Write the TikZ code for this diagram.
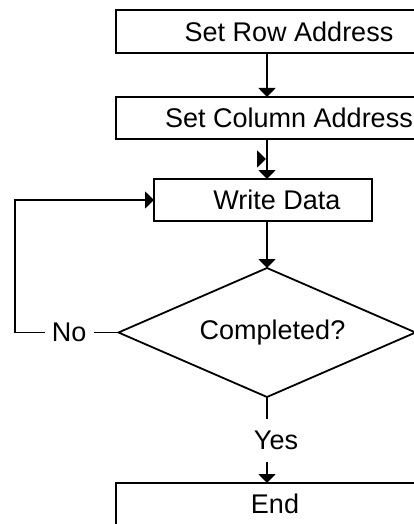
\documentclass[tikz,border=0pt]{standalone}
\usepackage{fontspec}
\setmainfont{Liberation Sans}
\usetikzlibrary{positioning, arrows.meta, shapes.geometric, calc}

\begin{document}
\begin{tikzpicture}[
  x=1pt, y=-1pt,
  box/.style={draw, line width=1.8pt, minimum width=346pt, minimum height=42pt,
              inner sep=0pt, outer sep=0pt, font=\fontsize{27}{30}\selectfont},
  decide/.style={draw, diamond, line width=1.8pt, minimum width=297pt, minimum height=129pt,
                 shape aspect=2.3, inner sep=0pt, outer sep=0pt, font=\fontsize{27}{30}\selectfont},
  lbl/.style={font=\fontsize{27}{30}\selectfont, inner sep=7pt, outer sep=0pt},
  arr/.style={-{Triangle[length=9pt, width=17pt]}, line width=1.8pt},
  line/.style={line width=1.8pt}
]

  \useasboundingbox (0,0) rectangle (414,524);

  % Process boxes
  \node[box, minimum height=43pt] (row) at (289,31.5) {Set Row Address};
  \node[box, below=44pt of row] (col) {Set Column Address};
  \node[box, minimum width=218pt, below=40pt of col, xshift=-26pt] (write) {\hspace*{28pt}Write Data};

  % Decision
  \node[decide, below=47pt of write, xshift=4pt] (dia) {\hspace*{11pt}Completed?};
  \node[lbl, left=25pt of dia] (no) {No};
  \node[lbl, inner sep=0pt, minimum height=43pt, below=22pt of dia, xshift=9pt] (yes) {Yes};

  % End box
  \node[box, minimum width=318pt, below=21pt of yes, xshift=-1pt] (end) {End};

  % Arrows down the main flow
  \draw[arr] (row.south -| dia.north) -- (col.north -| dia.north);
  \draw[arr] (col.south -| dia.north) -- (write.north -| dia.north);
  \draw[arr] (write.south -| dia.north) -- (dia.north);
  \draw[line] (dia.south) -- (dia.south |- yes.north);
  \draw[arr] (yes.south -| dia.south) -- (end.north -| dia.south);

  % Stray arrowhead
  \coordinate (stub) at (266,159);
  \draw[arr] ($(stub)+(-1,0)$) -- (stub);

  % Loop back
  \draw[line] (dia.west) -- (no.east);
  \draw[arr] (no.west) -- ++(-30,0) |- (write.west);

\end{tikzpicture}
\end{document}
